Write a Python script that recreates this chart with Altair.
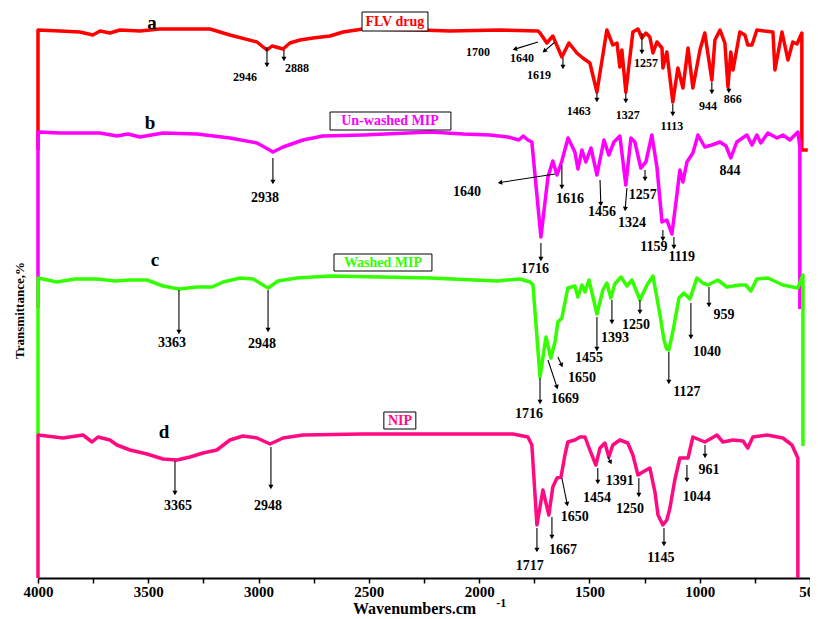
import math
import altair as alt
import pandas as pd

# ---------------- spectra (wavenumber cm-1, transmittance offset units) ----------------
a_wn = [4000, 4000, 3900, 3810, 3751, 3719, 3674, 3628, 3538, 3447, 3220, 3130, 3007, 2985, 2962, 2939, 2921, 2889,
        2858, 2812, 2753, 2676, 2617, 2527, 2268, 2132, 1906, 1733, 1724, 1693, 1666, 1625, 1593, 1557, 1530, 1498,
        1466, 1421, 1394, 1375, 1362, 1353, 1335, 1303, 1280, 1262, 1244, 1226, 1212, 1194, 1171, 1167, 1149, 1122,
        1099, 1076, 1053, 1031, 999, 977, 945, 931, 908, 886, 872, 859, 849, 818, 795, 782, 763, 741, 668, 659, 627,
        600, 578, 559, 537, 537, 510]
a_t = [85.6, 109.6, 109.4, 109.2, 108.6, 109.4, 109.0, 109.6, 109.4, 109.8, 109.8, 108.6, 107.2, 106.4, 105.6, 106.4,
       106.2, 105.8, 107.0, 107.6, 108.0, 108.4, 109.2, 109.8, 109.6, 109.4, 109.6, 109.4, 109.0, 107.0, 108.4, 104.2,
       107.0, 105.0, 104.0, 103.0, 97.2, 109.6, 106.6, 107.0, 102.2, 105.6, 97.2, 109.2, 109.8, 108.0, 109.0, 108.2,
       105.0, 107.2, 106.0, 102.0, 105.2, 95.2, 102.0, 98.0, 106.0, 98.0, 105.6, 109.0, 99.6, 107.6, 109.6, 107.0,
       98.2, 105.2, 101.6, 109.2, 108.6, 106.6, 106.6, 109.6, 109.2, 101.6, 109.2, 103.6, 107.2, 106.8, 109.0, 85.6,
       85.6]

b_wn = [4000, 4000, 3900, 3719, 3642, 3592, 3538, 3433, 3279, 3130, 3007, 2966, 2935, 2889, 2799, 2708, 2527, 2223,
        2073, 1951, 1870, 1820, 1800, 1779, 1761, 1720, 1688, 1666, 1647, 1625, 1597, 1566, 1552, 1534, 1516, 1493,
        1466, 1434, 1412, 1389, 1362, 1335, 1312, 1294, 1267, 1244, 1217, 1194, 1171, 1149, 1126, 1103, 1090, 1076,
        1058, 1031, 1008, 977, 945, 908, 881, 859, 832, 786, 763, 741, 723, 691, 650, 623, 591, 555, 546, 546]
b_t = [54.0, 89.2, 89.0, 89.0, 88.4, 88.8, 88.2, 89.0, 88.8, 88.0, 87.0, 86.0, 85.2, 86.2, 87.6, 88.4, 88.6, 89.2,
       88.8, 88.6, 88.2, 87.6, 88.4, 87.6, 87.2, 68.2, 80.2, 83.4, 80.6, 83.4, 88.0, 85.2, 81.8, 85.6, 83.2, 86.0,
       80.6, 87.6, 84.6, 87.2, 88.4, 78.6, 88.0, 87.2, 82.0, 83.2, 88.6, 82.2, 71.2, 71.6, 68.8, 76.8, 81.6, 79.2,
       83.2, 85.0, 88.6, 86.2, 86.6, 87.2, 86.4, 84.0, 87.2, 88.6, 86.6, 88.6, 87.0, 89.0, 88.0, 88.6, 87.6, 89.2,
       86.2, 53.8]

c_wn = [4000, 4000, 3914, 3832, 3733, 3651, 3583, 3506, 3433, 3361, 3279, 3211, 3161, 3084, 3025, 2957, 2912, 2826,
        2676, 2223, 1919, 1815, 1770, 1756, 1724, 1697, 1675, 1656, 1643, 1625, 1598, 1566, 1552, 1534, 1520, 1502,
        1466, 1439, 1421, 1403, 1385, 1357, 1330, 1307, 1271, 1239, 1212, 1180, 1162, 1150, 1140, 1122, 1094, 1072,
        1044, 1013, 986, 963, 918, 877, 818, 791, 768, 741, 691, 623, 555, 532, 532]
c_t = [28.6, 60.0, 59.2, 59.8, 59.8, 59.4, 59.6, 59.6, 58.4, 57.8, 58.2, 58.2, 59.2, 60.0, 59.8, 58.0, 59.4, 60.0,
       60.4, 60.0, 59.4, 59.8, 59.2, 58.6, 40.2, 48.2, 44.0, 47.2, 51.2, 52.0, 58.0, 58.4, 56.2, 58.6, 57.2, 59.6,
       52.8, 57.6, 59.0, 56.0, 58.8, 60.2, 58.4, 59.6, 55.6, 58.6, 60.4, 52.6, 47.6, 45.8, 45.6, 49.2, 56.0, 57.0,
       55.8, 60.0, 59.0, 58.6, 59.6, 58.2, 58.6, 58.6, 57.4, 59.8, 60.0, 58.6, 58.0, 60.6, 26.4]

d_wn = [4000, 4000, 3887, 3796, 3755, 3728, 3674, 3642, 3583, 3506, 3433, 3370, 3311, 3252, 3189, 3130, 3071, 3007,
        2948, 2889, 2799, 2527, 1847, 1779, 1761, 1738, 1711, 1684, 1666, 1647, 1629, 1611, 1598, 1566, 1543, 1520,
        1498, 1471, 1452, 1430, 1412, 1394, 1362, 1326, 1303, 1280, 1258, 1226, 1203, 1189, 1167, 1149, 1135, 1113,
        1090, 1053, 1031, 977, 945, 922, 895, 849, 804, 782, 759, 695, 623, 582, 555, 555]
d_t = [0.0, 28.6, 28.0, 28.6, 27.2, 28.2, 27.6, 26.6, 25.6, 24.8, 23.8, 23.6, 24.2, 25.0, 25.6, 27.6, 28.4, 28.0,
       26.8, 28.0, 28.6, 28.8, 28.8, 28.2, 26.6, 10.6, 17.6, 12.6, 18.2, 20.0, 20.2, 24.6, 27.2, 27.6, 28.2, 28.2,
       25.6, 22.6, 26.0, 27.0, 24.2, 26.6, 27.6, 27.0, 24.6, 20.6, 21.2, 22.0, 17.2, 12.6, 10.6, 11.6, 14.0, 19.6,
       24.0, 24.0, 28.2, 27.2, 28.0, 28.6, 27.2, 27.6, 27.4, 26.0, 28.2, 28.6, 28.0, 26.6, 24.0, 0.0]

series_names = ["FLV drug", "Un-washed MIP", "Washed MIP", "NIP"]
series_colors = ["#ff0000", "#ff00ff", "#33ff00", "#ff0a80"]

# ---------------- peak labels ----------------
peak_text = ["2946", "2888", "1700", "1640", "1619", "1463", "1327", "1257", "1113", "944", "866",
             "2938", "1640", "1616", "1456", "1324", "1257", "1159", "1119", "844", "1716",
             "3363", "2948", "1716", "1669", "1650", "1455", "1393", "1250", "1127", "1040", "959",
             "3365", "2948", "1717", "1667", "1650", "1454", "1391", "1250", "1145", "1044", "961"]
peak_wn = [3062, 2826, 2005, 1806, 1729, 1548, 1326, 1244, 1126, 963, 850,
           2971, 2055, 1588, 1443, 1307, 1258, 1208, 1081, 863, 1747,
           3393, 2985, 1774, 1611, 1534, 1502, 1384, 1289, 1058, 967, 890,
           3365, 2957, 1770, 1620, 1566, 1466, 1362, 1316, 1176, 1013, 958]
peak_t = [100.2, 102.0, 105.2, 104.0, 100.6, 93.4, 92.6, 103.0, 90.4, 94.4, 95.8,
          76.0, 77.2, 75.8, 73.2, 71.0, 76.6, 66.2, 64.2, 81.4, 61.8,
          47.0, 46.8, 32.8, 35.8, 40.0, 44.0, 48.0, 50.6, 37.2, 45.2, 52.6,
          14.4, 14.4, 2.4, 5.6, 12.2, 16.0, 19.4, 13.8, 4.0, 16.2, 21.6]
peak_size = [12] * 11 + [14] * 32

# ---------------- arrows (start -> end) ----------------
arr_wn1 = [2962, 2885, 1733, 1656, 1620, 1466, 1335, 1262, 1122, 945, 868,
           2935, 1656, 1625, 1452, 1330, 1248, 1167, 1117, 1720,
           3361, 2957, 1724, 1688, 1643, 1466, 1398, 1271, 1140, 1040, 958,
           3379, 2944, 1738, 1670, 1625, 1462, 1416, 1276, 1162, 1058, 976]
arr_t1 = [106.2, 105.6, 107.2, 107.2, 104.0, 97.0, 97.0, 109.0, 94.8, 99.2, 98.0,
          84.0, 80.8, 82.6, 79.6, 78.0, 81.6, 69.6, 68.2, 67.0,
          57.6, 57.6, 40.0, 43.6, 44.2, 52.2, 55.6, 55.6, 45.2, 55.0, 58.2,
          23.4, 26.2, 10.0, 12.2, 20.0, 22.0, 24.2, 20.0, 10.0, 22.6, 26.6]
arr_wn2 = [2962, 2885, 1851, 1715, 1620, 1466, 1335, 1262, 1122, 945, 868,
           2935, 1919, 1625, 1448, 1339, 1248, 1167, 1117, 1720,
           3361, 2957, 1724, 1643, 1620, 1466, 1398, 1271, 1140, 1040, 958,
           3379, 2944, 1738, 1670, 1598, 1462, 1398, 1276, 1162, 1058, 976]
arr_t2 = [102.0, 103.2, 105.6, 105.0, 101.6, 95.0, 94.8, 104.6, 92.2, 96.6, 96.8,
          78.6, 79.0, 77.6, 74.2, 73.2, 79.2, 67.2, 65.6, 63.2,
          48.6, 49.0, 34.6, 37.6, 42.0, 45.2, 50.6, 52.6, 38.6, 47.6, 54.0,
          16.4, 17.6, 5.0, 7.6, 14.2, 18.6, 22.6, 16.0, 6.2, 19.0, 23.8]

# ---------------- panel letters and boxed names ----------------
letter_text = ["a", "b", "c", "d"]
letter_wn = [3483, 3492, 3470, 3429]
letter_t = [111.0, 91.0, 63.6, 29.2]

box_wn1 = [2531, 2676, 2658, 2432]
box_wn2 = [2232, 2128, 2214, 2287]
box_t1 = [113.2, 93.2, 64.8, 33.2]
box_t2 = [109.4, 89.6, 61.4, 29.8]
name_wn = [2382, 2404, 2436, 2359]
name_t = [111.3, 91.4, 63.1, 31.5]

sup_text = ["-1"]
sup_wn = [1900]
sup_t = [-5.0]

# ---------------- build tables ----------------
W, H = 772, 568
WN_MIN, WN_MAX = 500, 4000
T_MAX = 113.6
kx = W / (WN_MAX - WN_MIN)
ky = H / T_MAX

rows = []
for name, wn, tr in zip(series_names, [a_wn, b_wn, c_wn, d_wn], [a_t, b_t, c_t, d_t]):
    for i, (w, t) in enumerate(zip(wn, tr)):
        rows.append({"s": name, "i": i, "wn": w, "t": t})
spec = pd.DataFrame(rows)

peaks = pd.DataFrame({"label": peak_text, "wn": peak_wn, "t": peak_t, "fs": peak_size})

arrow_rows = []
for w1, t1, w2, t2 in zip(arr_wn1, arr_t1, arr_wn2, arr_t2):
    dx = (w1 - w2) * kx
    dy = (t1 - t2) * ky
    L = math.hypot(dx, dy)
    ux, uy = dx / L, dy / L
    back = 3.0
    wc = w2 + back * ux / kx
    tc = t2 + back * uy / ky
    ang = (math.degrees(math.atan2(dx, -dy)) + 360) % 360
    arrow_rows.append({"wn": w1, "t": t1, "wn2": wc, "t2": tc, "ang": ang})
arrows = pd.DataFrame(arrow_rows)

letters = pd.DataFrame({"label": letter_text, "wn": letter_wn, "t": letter_t})
boxes = pd.DataFrame({"wn": box_wn1, "wn2": box_wn2, "t": box_t1, "t2": box_t2})
names = pd.DataFrame({"label": series_names, "wn": name_wn, "t": name_t})
sup = pd.DataFrame({"label": sup_text, "wn": sup_wn, "t": sup_t})

FONT = "Liberation Serif"

x_axis = alt.Axis(
    values=list(range(500, 4001, 250)),
    labelExpr="datum.value % 500 == 0 ? format(datum.value, 'd') : ''",
    grid=False, tickSize=5, tickWidth=1.5, tickColor="black",
    domainColor="black", domainWidth=2,
    labelFont=FONT, labelFontWeight="bold", labelFontSize=15, labelColor="black",
    labelPadding=1, labelFlush=False, labelOverlap=False,
    titleFont=FONT, titleFontWeight="bold", titleFontSize=16, titleColor="black",
    titlePadding=1, titleX=376,
)
y_axis = alt.Axis(
    labels=False, ticks=False, domain=False, grid=False,
    titleFont=FONT, titleFontWeight="bold", titleFontSize=13, titleColor="black",
    titlePadding=12, titleY=300,
)

x_scale = alt.Scale(domain=[WN_MIN, WN_MAX], reverse=True, nice=False, zero=False)
y_scale = alt.Scale(domain=[0, T_MAX], nice=False, zero=False)

X = alt.X("wn:Q", scale=x_scale, axis=x_axis, title="Wavenumbers.cm")
Y = alt.Y("t:Q", scale=y_scale, axis=y_axis, title="Transmittance,%")

color_scale = alt.Scale(domain=series_names, range=series_colors)

lines = alt.Chart(spec).mark_line(strokeWidth=3.5, strokeJoin="round").encode(
    x=X, y=Y,
    color=alt.Color("s:N", scale=color_scale, legend=None),
    order=alt.Order("i:Q"),
)

arrow_lines = alt.Chart(arrows).mark_rule(color="black", strokeWidth=1.1).encode(
    x=X, y=Y, x2="wn2:Q", y2="t2:Q")

arrow_heads = alt.Chart(arrows).mark_point(shape="triangle-up", filled=True, color="black",
                                           size=26, opacity=1).encode(
    x=alt.X("wn2:Q", scale=x_scale, axis=x_axis, title="Wavenumbers.cm"),
    y=alt.Y("t2:Q", scale=y_scale, axis=y_axis, title="Transmittance,%"),
    angle=alt.Angle("ang:Q", scale=None),
)

peak_labels = alt.Chart(peaks).mark_text(font=FONT, fontWeight="bold", color="black").encode(
    x=X, y=Y, text="label:N", size=alt.Size("fs:Q", scale=None, legend=None))

letter_marks = alt.Chart(letters).mark_text(font=FONT, fontWeight="bold", fontSize=19, color="black").encode(
    x=X, y=Y, text="label:N")

box_marks = alt.Chart(boxes).mark_rect(fill="white", stroke="black", strokeWidth=1).encode(
    x=X, y=Y, x2="wn2:Q", y2="t2:Q")

name_marks = alt.Chart(names).mark_text(font=FONT, fontWeight="bold", fontSize=14).encode(
    x=X, y=Y, text="label:N",
    color=alt.Color("label:N", scale=color_scale, legend=None))

sup_mark = alt.Chart(sup).mark_text(font=FONT, fontWeight="bold", fontSize=12, color="black").encode(
    x=X, y=Y, text="label:N")

chart = alt.layer(
    lines, arrow_lines, arrow_heads, peak_labels, letter_marks, box_marks, name_marks, sup_mark
).resolve_scale(color="independent").properties(
    width=W, height=H,
    autosize=alt.AutoSizeParams(type="none"),
    padding={"left": 30, "top": 2, "right": 0, "bottom": 40},
).configure_view(stroke=None)

chart.save("out.html", embed_options={"renderer": "svg", "actions": False})
